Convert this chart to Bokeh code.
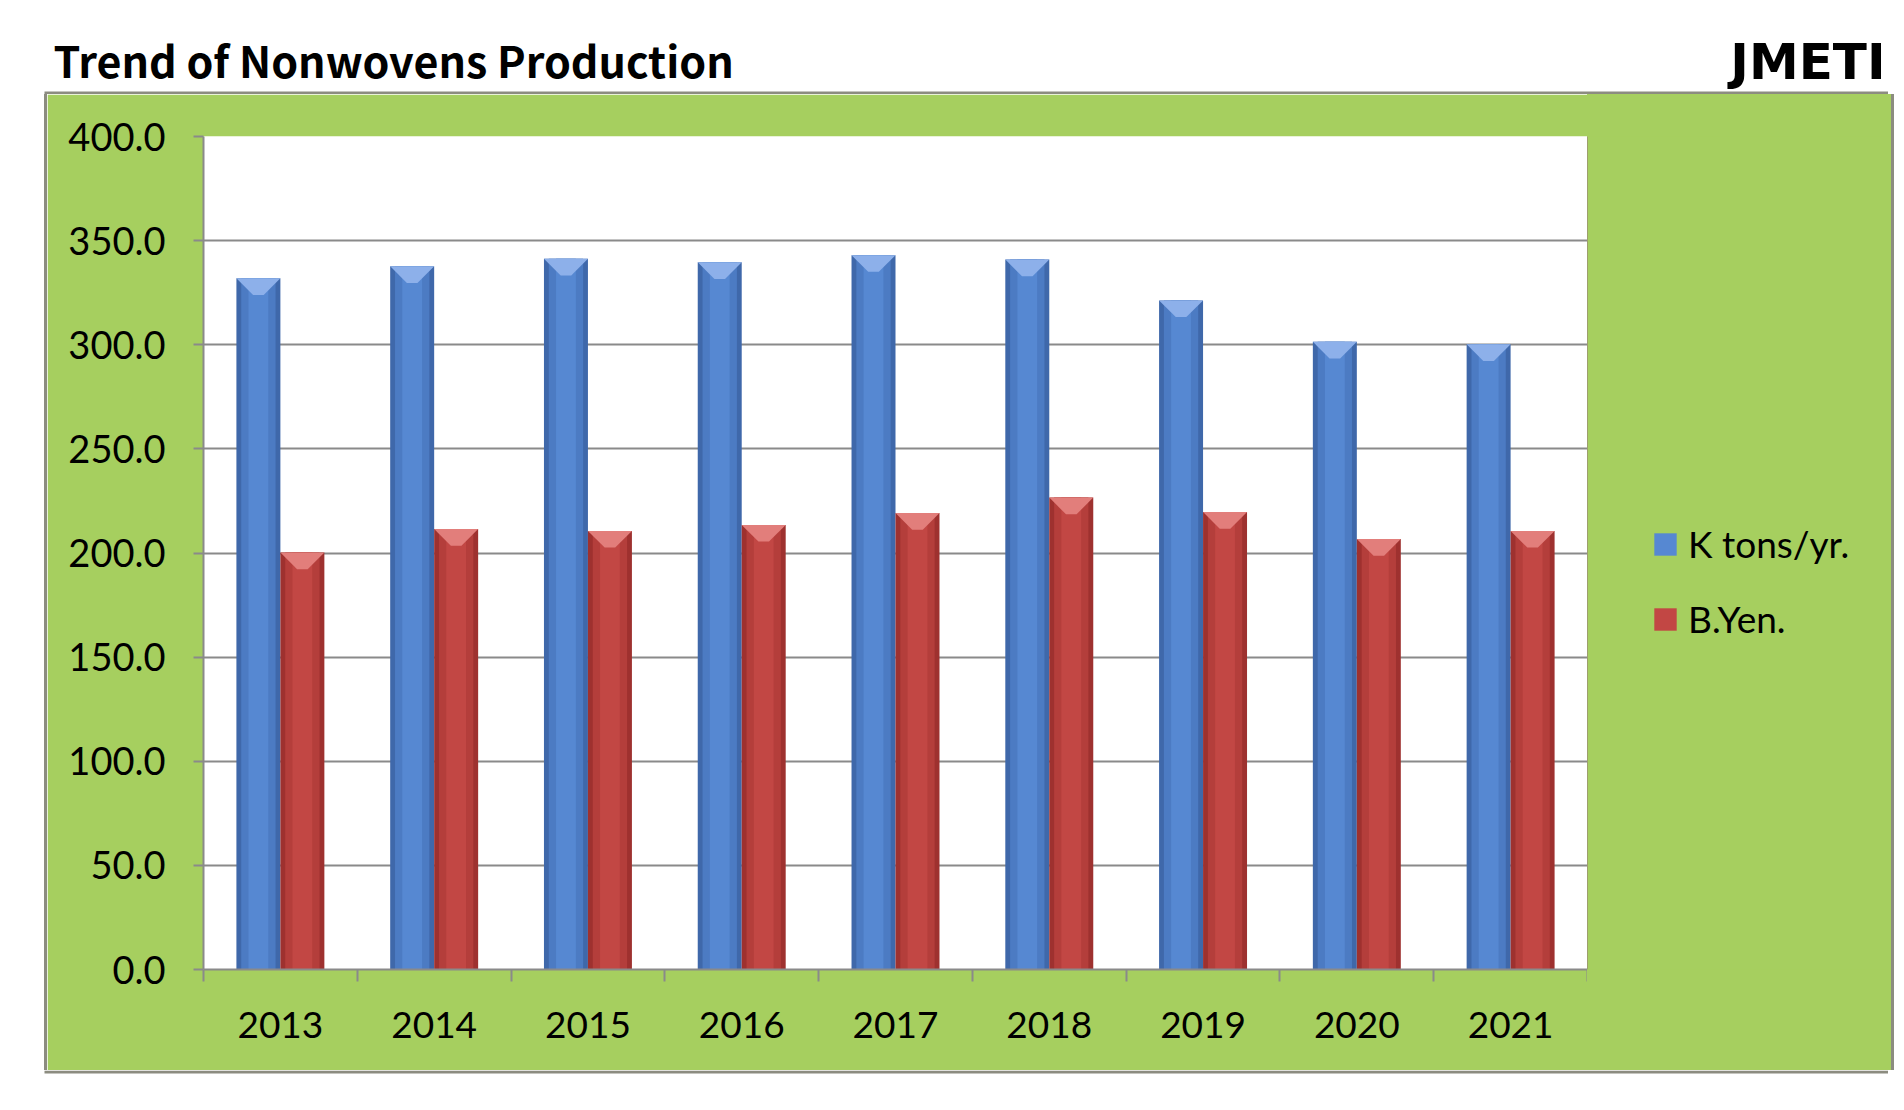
from bokeh.plotting import figure
from bokeh.models import (Range1d, FixedTicker, NumeralTickFormatter, Legend, LegendItem, Spacer,
                          BoxAnnotation)
from bokeh.layouts import column, row
from bokeh.core.properties import value
from bokeh.embed import file_html
from bokeh.resources import INLINE

# ---------------- data ----------------
categories = ["2013", "2014", "2015", "2016", "2017", "2018", "2019", "2020", "2021"]
k_tons = [331.9, 337.7, 341.3, 339.6, 343.0, 340.9, 321.3, 301.4, 300.2]
b_yen = [200.2, 211.5, 210.6, 213.5, 219.2, 226.6, 219.7, 206.7, 210.6]
y_ticks = [0, 50, 100, 150, 200, 250, 300, 350, 400]
title_text = "Trend of Nonwovens Production"
source_text = "JMETI"
series_names = ["K tons/yr.", "B.Yen."]

GREEN = "#A6CF5F"
GRAY = "#8A8A8A"
EDGE = "#8C8C80"
FONT = "Lato"
BLUE = ("#3F68AA", "#4C7BC3", "#5688D2", "#8DB0EA")
RED = ("#9E312F", "#B43E3B", "#C24744", "#E27E7B")


def blank(w, h, color):
    f = figure(width=w, height=h, x_axis_type=None, y_axis_type=None, toolbar_location=None,
               output_backend="svg", min_border=0, outline_line_color=None,
               background_fill_color=color, border_fill_color=color)
    f.grid.visible = False
    f.styles = {"background-color": color}
    return f


# ---------------- title strip (with top edge of the green panel) ----------------
tw, th = 1888, 94
tp = figure(width=tw, height=th, x_range=Range1d(0, tw), y_range=Range1d(0, th),
            x_axis_type=None, y_axis_type=None, toolbar_location=None,
            output_backend="svg", min_border=0, outline_line_color=None)
tp.grid.visible = False
tp.text(x=[53], y=[th - 58], text=[title_text], text_font=value("Noto Sans CJK JP"),
        text_font_style="bold", text_font_size="43px", text_baseline="middle",
        text_color="black")
tp.text(x=[1885], y=[th - 61], text=[source_text], text_font=value("DejaVu Sans"),
        text_font_style="bold", text_font_size="50px", text_baseline="middle",
        text_align="right", text_color="black")
tp.add_layout(BoxAnnotation(left=44, right=1894, bottom=0, top=3, fill_color=EDGE,
                            fill_alpha=1, line_color=None, level="underlay"))

# ---------------- main chart ----------------
n = len(categories)
bw = 0.286
centers = [i + 0.5 for i in range(n)]
xb = [c - bw / 2 for c in centers]
xr = [c + bw / 2 for c in centers]

p = figure(frame_width=1384, frame_height=833, x_range=Range1d(0, n), y_range=Range1d(0, 400),
           toolbar_location=None, output_backend="svg",
           min_border_left=156, min_border_right=0, min_border_top=42, min_border_bottom=101,
           border_fill_color=GREEN, background_fill_color="white", outline_line_color=None)


def bars(xs, vals, cols):
    base, mid, light, cap = cols
    r = p.vbar(x=xs, top=vals, bottom=0, width=bw, fill_color=base, line_color=None)
    p.vbar(x=xs, top=vals, bottom=0, width=bw * 0.78, fill_color=mid, line_color=None)
    p.vbar(x=xs, top=vals, bottom=0, width=bw * 0.45, fill_color=light, line_color=None)
    d = 8.0
    cxs = [[x - bw / 2, x + bw / 2, x + bw * 0.12, x - bw * 0.12] for x in xs]
    cys = [[v, v, v - d, v - d] for v in vals]
    p.patches(xs=cxs, ys=cys, fill_color=cap, line_color=None)
    return r


bars(xb, k_tons, BLUE)
bars(xr, b_yen, RED)

# y axis
p.yaxis.ticker = FixedTicker(ticks=y_ticks)
p.yaxis.formatter = NumeralTickFormatter(format="0.0")
p.yaxis.axis_line_color = GRAY
p.yaxis.axis_line_width = 2
p.yaxis.major_tick_line_color = GRAY
p.yaxis.major_tick_line_width = 2
p.yaxis.major_tick_out = 10
p.yaxis.major_tick_in = 0
p.yaxis.minor_tick_line_color = None
p.yaxis.major_label_text_font = FONT
p.yaxis.major_label_text_font_size = "38px"
p.yaxis.major_label_text_color = "black"
p.yaxis.major_label_standoff = 28

# x axis
p.xaxis.ticker = FixedTicker(ticks=centers, minor_ticks=list(range(n + 1)))
p.xaxis.major_label_overrides = {c: lab for c, lab in zip(centers, categories)}
p.xaxis.axis_line_color = GRAY
p.xaxis.axis_line_width = 2
p.xaxis.major_tick_line_color = None
p.xaxis.major_tick_out = 0
p.xaxis.major_tick_in = 0
p.xaxis.minor_tick_line_color = GRAY
p.xaxis.minor_tick_line_width = 2
p.xaxis.minor_tick_out = 12
p.xaxis.minor_tick_in = 0
p.xaxis.major_label_text_font = FONT
p.xaxis.major_label_text_font_size = "37px"
p.xaxis.major_label_text_color = "black"
p.xaxis.major_label_standoff = 30

p.xgrid.visible = False
p.ygrid.ticker = FixedTicker(ticks=y_ticks)
p.ygrid.grid_line_color = GRAY
p.ygrid.grid_line_width = 2

# ---------------- legend panel (right part of the green box) ----------------
lf = figure(width=304, height=976, x_range=Range1d(0, 1), y_range=Range1d(0, 1),
            x_axis_type=None, y_axis_type=None, toolbar_location=None, output_backend="svg",
            min_border=0, outline_line_color=None,
            background_fill_color=GREEN, border_fill_color=GREEN)
lf.styles = {"background-color": GREEN}
lf.grid.visible = False
# swatch renderers kept outside the visible range: only their legend glyphs show
lb = lf.vbar(x=[-5], top=[1], width=0.1, fill_color=BLUE[2], line_color=None)
lr = lf.vbar(x=[-5], top=[1], width=0.1, fill_color=RED[2], line_color=None)
legend = Legend(items=[LegendItem(label=series_names[0], renderers=[lb]),
                       LegendItem(label=series_names[1], renderers=[lr])],
                location=(64, 328), padding=0, margin=0,
                background_fill_alpha=0, border_line_alpha=0,
                glyph_width=28, glyph_height=28, label_standoff=9, spacing=30,
                label_text_font=FONT, label_text_font_size="37px", label_height=44,
                label_text_color="black")
lf.add_layout(legend)

# ---------------- bottom strip (with bottom edge of the green panel) ----------------
bp = figure(width=tw, height=30, x_range=Range1d(0, tw), y_range=Range1d(0, 30),
            x_axis_type=None, y_axis_type=None, toolbar_location=None,
            output_backend="svg", min_border=0, outline_line_color=None)
bp.grid.visible = False
bp.add_layout(BoxAnnotation(left=44, right=1894, bottom=27, top=30, fill_color=EDGE,
                            fill_alpha=1, line_color=None, level="underlay"))

left_edge = blank(3, 976, EDGE)
right_edge = blank(3, 976, EDGE)

layout = column(
    tp,
    row(Spacer(width=44, height=976), left_edge, p, lf, right_edge),
    bp,
)
open("out.html", "w").write(file_html(layout, INLINE))
